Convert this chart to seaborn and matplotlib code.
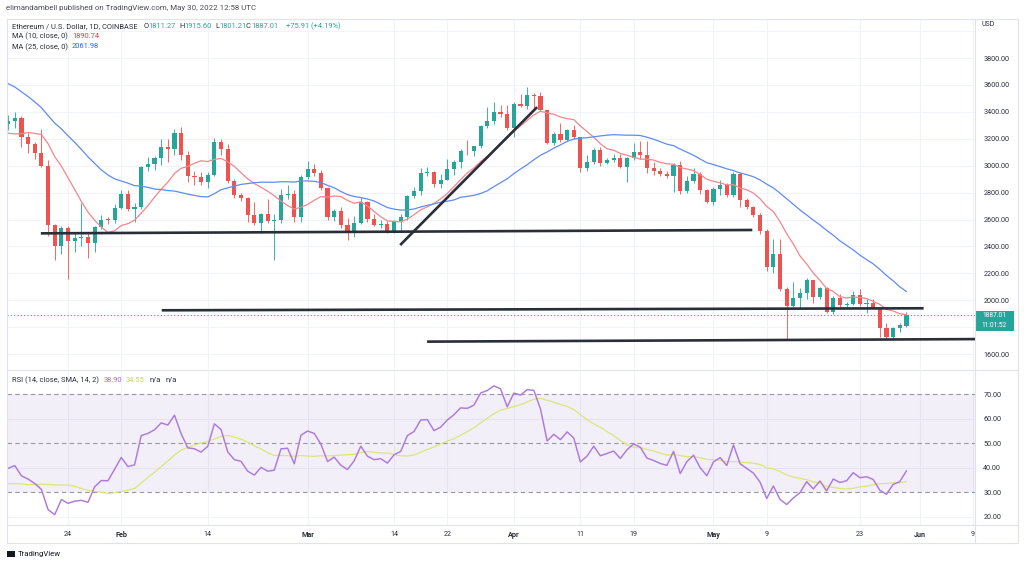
import numpy as np
import pandas as pd
import matplotlib
matplotlib.use("Agg")
import matplotlib.pyplot as plt
import matplotlib.dates as mdates
from matplotlib.lines import Line2D
from matplotlib.patches import Rectangle
import seaborn as sns

# -------------------------------------------------
# Style
# -------------------------------------------------
sns.set_theme(style="white")
plt.rcParams["font.family"] = ["Roboto", "DejaVu Sans"]

GREEN = "#26A69A"
RED = "#EF5350"
MA10_COLOR = "#F4868B"
MA25_COLOR = "#5F8CF0"
RSI_COLOR = "#AD79DA"
RSI_SMA_COLOR = "#DCE57A"
GRID = "#F0F3FA"
FRAME = "#E0E3EB"
TEXT = "#2A2E39"
TREND = "#2A2E39"

# -------------------------------------------------
# Data (ETH/USD daily, Coinbase)
# -------------------------------------------------
# closes before the first visible candle (Dec 1 2021 .. Jan 14 2022), used by MA / RSI
history_closes = [
    4587, 4515, 4220, 4119, 4198, 4346, 4308, 4434, 4110, 3893,
    4076, 4134, 3784, 3862, 4018, 3962, 3880, 3961, 3923, 3941,
    4020, 3980, 4108, 4047, 4093, 4065, 4037, 3794, 3628, 3713,
    3683, 3769, 3829, 3761, 3794, 3538, 3412, 3196, 3080, 3157,
    3083, 3238, 3373, 3242, 3305,
]

# visible candles, Jan 15 2022 .. May 30 2022
opens = [
    3310, 3331, 3356, 3212, 3164, 3096, 3001, 2560, 2405, 2539,
    2441, 2460, 2467, 2423, 2546, 2599, 2595, 2688, 2792, 2681,
    2695, 2990, 3015, 3058, 3140, 3122, 3240, 3076, 2927, 2917,
    2882, 2934, 3178, 3125, 2885, 2785, 2763, 2630, 2573, 2640,
    2590, 2598, 2784, 2790, 2618, 2919, 2972, 2948, 2835, 2619,
    2664, 2556, 2496, 2577, 2727, 2605, 2560, 2570, 2517, 2590,
    2620, 2772, 2815, 2944, 2950, 2861, 2897, 2972, 3030, 3110,
    3107, 3143, 3296, 3332, 3400, 3384, 3282, 3458, 3446, 3522,
    3518, 3412, 3171, 3235, 3190, 3262, 3213, 2981, 3031, 3118,
    3021, 3041, 3060, 2991, 3058, 3105, 3078, 2985, 2964, 2938,
    2922, 3008, 2809, 2889, 2935, 2816, 2729, 2826, 2857, 2781,
    2941, 2748, 2693, 2636, 2518, 2244, 2342, 2080, 1960, 2014,
    2057, 2148, 2023, 2090, 1914, 2018, 1961, 1975, 2042, 1972,
    1979, 1944, 1790, 1725, 1793, 1811.27,
]
highs = [
    3377, 3400, 3368, 3240, 3175, 3275, 3040, 2570, 2550, 2555,
    2510, 2723, 2500, 2550, 2633, 2620, 2715, 2820, 2820, 2720,
    3000, 3065, 3070, 3200, 3200, 3275, 3285, 3110, 2962, 2950,
    2953, 3205, 3200, 3160, 2900, 2800, 2770, 2730, 2650, 2750,
    2640, 2830, 2860, 2820, 2930, 3035, 3010, 2970, 2845, 2680,
    2690, 2610, 2626, 2770, 2740, 2640, 2600, 2590, 2600, 2640,
    2780, 2842, 2985, 2990, 2960, 2935, 3050, 3040, 3125, 3190,
    3150, 3300, 3440, 3475, 3450, 3450, 3475, 3533, 3585, 3538,
    3550, 3415, 3250, 3315, 3270, 3300, 3215, 3080, 3130, 3140,
    3060, 3085, 3090, 3065, 3170, 3180, 3180, 3025, 2985, 2960,
    3023, 3035, 2920, 2980, 2950, 2830, 2840, 2890, 2875, 2955,
    2955, 2760, 2700, 2650, 2530, 2452, 2455, 2100, 2138, 2090,
    2165, 2150, 2100, 2100, 2030, 2045, 1985, 2065, 2085, 2009,
    2010, 1950, 1830, 1800, 1830, 1915.60,
]
lows = [
    3265, 3280, 3140, 3094, 3050, 2990, 2475, 2300, 2340, 2160,
    2360, 2400, 2312, 2360, 2530, 2570, 2575, 2680, 2660, 2585,
    2680, 2960, 2970, 3005, 3030, 3080, 3040, 2880, 2855, 2855,
    2834, 2925, 3080, 2875, 2760, 2738, 2580, 2560, 2500, 2575,
    2300, 2575, 2750, 2580, 2580, 2900, 2920, 2820, 2600, 2590,
    2540, 2450, 2470, 2570, 2584, 2550, 2536, 2500, 2500, 2510,
    2600, 2760, 2780, 2920, 2840, 2836, 2890, 2930, 2985, 3080,
    3070, 3130, 3280, 3310, 3365, 3265, 3210, 3436, 3420, 3419,
    3405, 3160, 3155, 3178, 3185, 3195, 2956, 2960, 3010, 3000,
    3010, 3030, 2985, 2880, 3045, 3050, 2944, 2930, 2925, 2910,
    2807, 2790, 2800, 2870, 2790, 2720, 2710, 2780, 2770, 2770,
    2690, 2680, 2620, 2490, 2220, 2200, 2070, 1704, 1950, 1942,
    2010, 1981, 2010, 1905, 1900, 1950, 1950, 1965, 1960, 1905,
    1935, 1726, 1715, 1716, 1765, 1801.21,
]
closes = [
    3331, 3356, 3212, 3164, 3096, 3001, 2560, 2405, 2539, 2441,
    2460, 2467, 2423, 2546, 2599, 2595, 2688, 2792, 2681, 2695,
    2990, 3015, 3058, 3140, 3122, 3240, 3076, 2927, 2917, 2882,
    2934, 3178, 3125, 2885, 2785, 2763, 2630, 2573, 2640, 2590,
    2598, 2784, 2790, 2618, 2919, 2972, 2948, 2835, 2619, 2664,
    2556, 2496, 2577, 2727, 2605, 2560, 2570, 2517, 2590, 2620,
    2772, 2815, 2944, 2950, 2861, 2897, 2972, 3030, 3110, 3107,
    3143, 3296, 3332, 3400, 3384, 3282, 3458, 3446, 3522, 3518,
    3412, 3171, 3235, 3190, 3262, 3213, 2981, 3031, 3118, 3021,
    3041, 3060, 2991, 3058, 3105, 3078, 2985, 2964, 2938, 2922,
    3008, 2809, 2889, 2935, 2816, 2729, 2826, 2857, 2781, 2941,
    2748, 2693, 2636, 2518, 2244, 2342, 2080, 1960, 2014, 2057,
    2148, 2023, 2090, 1914, 2018, 1961, 1975, 2042, 1972, 1979,
    1944, 1790, 1725, 1793, 1812, 1887.01,
]

tick_dates = ["2022-01-24", "2022-02-01", "2022-02-14", "2022-03-01", "2022-03-14",
              "2022-03-22", "2022-04-01", "2022-04-11", "2022-04-19", "2022-05-01",
              "2022-05-09", "2022-05-23", "2022-06-01", "2022-06-09"]
tick_labels = ["24", "Feb", "14", "Mar", "14", "22", "Apr", "11", "19", "May",
               "9", "23", "Jun", "9"]

# user-drawn trend lines: (date, price) -> (date, price)
trend_lines = [
    (("2022-01-19 22:00", 2497), ("2022-05-06 20:00", 2522)),
    (("2022-03-14 22:00", 2410), ("2022-04-04 12:00", 3436)),
    (("2022-02-07 02:00", 1925), ("2022-06-01 14:00", 1940)),
    (("2022-03-18 23:00", 1692), ("2022-06-10 00:00", 1711)),
]

# -------------------------------------------------
# Indicators
# -------------------------------------------------
dates = pd.date_range("2022-01-15", periods=len(closes))
hist_dates = pd.date_range("2021-12-01", periods=len(history_closes))
all_dates = hist_dates.append(dates)
all_close = pd.Series(history_closes + closes, index=all_dates, dtype=float)

ma10 = all_close.rolling(10).mean()
ma25 = all_close.rolling(25).mean()

delta = all_close.diff().iloc[1:]
up = delta.clip(lower=0).ewm(alpha=1 / 14, adjust=False).mean()
down = (-delta.clip(upper=0)).ewm(alpha=1 / 14, adjust=False).mean()
rsi = 100 - 100 / (1 + up / down)
rsi_sma = rsi.rolling(14).mean()

x = mdates.date2num(dates)
x_all = mdates.date2num(all_dates)
x_rsi = mdates.date2num(rsi.index)

o = np.array(opens, dtype=float)
h = np.array(highs, dtype=float)
l = np.array(lows, dtype=float)
c = np.array(closes, dtype=float)

# -------------------------------------------------
# Figure / panes (positions in pixels of a 1024x565 canvas)
# -------------------------------------------------
W, H = 1024, 565


def fx(px):
    return px / W


def fy(py):
    return 1 - py / H


fig = plt.figure(figsize=(10.24, 5.65), dpi=100)
fig.patch.set_facecolor("white")

ax = fig.add_axes([fx(7), fy(369), fx(975) - fx(7), fy(19) - fy(369)])
ax_rsi = fig.add_axes([fx(7), fy(525), fx(975) - fx(7), fy(370) - fy(525)], sharex=ax)

x0 = mdates.date2num(pd.Timestamp("2022-01-24")) - 9.17
x1 = mdates.date2num(pd.Timestamp("2022-01-24")) + 136.3

# ---- price pane ----
ax.set_xlim(x0, x1)
ax.set_ylim(1488.5, 4090.7)
for gx in mdates.date2num(pd.to_datetime(tick_dates)):
    ax.axvline(gx, color=GRID, lw=0.8, zorder=0)
for gy in range(1600, 4001, 200):
    ax.axhline(gy, color=GRID, lw=0.8, zorder=0)

colors = np.where(c >= o, GREEN, RED)
ax.vlines(x, l, h, colors=colors, lw=0.75, alpha=0.85, zorder=2)
body = np.maximum(np.abs(c - o), 6)
ax.bar(x, body, bottom=np.minimum(o, c), width=0.62, color=colors, lw=0, zorder=3)

sns.lineplot(x=x_all, y=ma10.values, ax=ax, color=MA10_COLOR, lw=0.9, zorder=4)
sns.lineplot(x=x_all, y=ma25.values, ax=ax, color=MA25_COLOR, lw=0.9, zorder=4)

for (d0, p0), (d1, p1) in trend_lines:
    ax.plot(mdates.date2num(pd.to_datetime([d0, d1])), [p0, p1],
            color=TREND, lw=1.9, solid_capstyle="butt", zorder=5)

ax.axhline(closes[-1], color=GREEN, ls=(0, (1, 2)), lw=0.8, zorder=1)

ax.yaxis.tick_right()
ax.set_yticks(range(1600, 3801, 200))
ax.set_yticklabels([f"{v:.2f}" for v in range(1600, 3801, 200)])
ax.tick_params(axis="y", length=0, pad=6, labelsize=5.2, labelcolor=TEXT)
ax.tick_params(axis="x", length=0, labelbottom=False)
for s in ax.spines.values():
    s.set_visible(False)

# ---- RSI pane ----
ax_rsi.set_ylim(16.6, 79.8)
for gx in mdates.date2num(pd.to_datetime(tick_dates)):
    ax_rsi.axvline(gx, color=GRID, lw=0.8, zorder=0)
for gy in (20, 40, 60):
    ax_rsi.axhline(gy, color=GRID, lw=0.8, zorder=0)
ax_rsi.axhspan(30, 70, color="#7E57C2", alpha=0.09, lw=0, zorder=0)
for gy in (30, 50, 70):
    ax_rsi.axhline(gy, color="#9598A1", ls=(0, (4, 3)), lw=0.8, zorder=1)

sns.lineplot(x=x_rsi, y=rsi_sma.values, ax=ax_rsi, color=RSI_SMA_COLOR, lw=0.9, zorder=2)
sns.lineplot(x=x_rsi, y=rsi.values, ax=ax_rsi, color=RSI_COLOR, lw=1.05, zorder=3)

ax_rsi.yaxis.tick_right()
ax_rsi.set_yticks(range(20, 71, 10))
ax_rsi.set_yticklabels([f"{v:.2f}" for v in range(20, 71, 10)])
ax_rsi.tick_params(axis="y", length=0, pad=6, labelsize=5.2, labelcolor=TEXT)
ax_rsi.set_xticks(mdates.date2num(pd.to_datetime(tick_dates)))
ax_rsi.set_xticklabels(tick_labels)
ax_rsi.tick_params(axis="x", length=0, pad=4.5, labelsize=5.2, labelcolor=TEXT)
for lab in ax_rsi.get_xticklabels():
    if lab.get_text().isalpha():
        lab.set_fontweight("bold")
ax_rsi.set_xlabel("")
ax_rsi.set_ylabel("")
ax.set_xlabel("")
ax.set_ylabel("")
ax.set_xlim(x0, x1)
for s in ax_rsi.spines.values():
    s.set_visible(False)

# -------------------------------------------------
# Frame
# -------------------------------------------------
def hline(py, xa=7, xb=1018):
    fig.add_artist(Line2D([fx(xa), fx(xb)], [fy(py), fy(py)], color=FRAME, lw=0.8))


def vline(px, ya=19, yb=542):
    fig.add_artist(Line2D([fx(px), fx(px)], [fy(ya), fy(yb)], color=FRAME, lw=0.8))


hline(19)
hline(369.5)
hline(525)
hline(542.5)
vline(7)
vline(975)
vline(1018)

# -------------------------------------------------
# Texts
# -------------------------------------------------
fs = 5.4
fig.text(fx(6), fy(8), "elimandambell published on TradingView.com, May 30, 2022 12:58 UTC",
         fontsize=5.7, color="#4A4E59", va="center")

row = fy(26.5)
fig.text(fx(12), row, "Ethereum / U.S. Dollar, 1D, COINBASE", fontsize=fs, color=TEXT, va="center")
for lx, key, vx, val in [(144, "O", 148, "1811.27"), (179, "H", 184, "1915.60"),
                         (215, "L", 219, "1801.21"), (246, "C", 251, "1887.01")]:
    fig.text(fx(lx), row, key, fontsize=fs, color=TEXT, va="center")
    fig.text(fx(vx), row, val, fontsize=fs, color=GREEN, va="center")
fig.text(fx(286), row, "+75.91 (+4.19%)", fontsize=fs, color=GREEN, va="center")

fig.text(fx(12), fy(36.5), "MA (10, close, 0)", fontsize=fs, color=TEXT, va="center")
fig.text(fx(72), fy(36.5), "1890.74", fontsize=fs, color="#F23645", va="center")
fig.text(fx(12), fy(47), "MA (25, close, 0)", fontsize=fs, color=TEXT, va="center")
fig.text(fx(72), fy(47), "2061.98", fontsize=fs, color="#2962FF", va="center")

fig.text(fx(12), fy(380), "RSI (14, close, SMA, 14, 2)", fontsize=fs, color=TEXT, va="center")
fig.text(fx(104), fy(380), "38.90", fontsize=fs, color="#9C6ADE", va="center")
fig.text(fx(126), fy(380), "34.55", fontsize=fs, color="#C7D84A", va="center")
fig.text(fx(150), fy(380), "n/a", fontsize=fs, color=TEXT, va="center")
fig.text(fx(166), fy(380), "n/a", fontsize=fs, color=TEXT, va="center")

fig.text(fx(982), fy(25), "USD", fontsize=5.0, color=TEXT, va="center")

# last price badge (price + countdown in one two-line label)
fig.add_artist(Rectangle((fx(975), fy(331)), fx(1014) - fx(975), fy(310.5) - fy(331),
                         color=GREEN, lw=0))
fig.text(fx(994.5), fy(320.8), "1887.01\n11:01:52", fontsize=4.7, color="white",
         ha="center", va="center", linespacing=1.55)

# TradingView mark
fig.add_artist(Rectangle((fx(7), fy(557)), fx(15) - fx(7), fy(551) - fy(557), color="#131722", lw=0))
fig.text(fx(18), fy(554), "TradingView", fontsize=5.6, color="#131722", va="center")

fig.savefig("out.png", dpi=100, facecolor="white")
